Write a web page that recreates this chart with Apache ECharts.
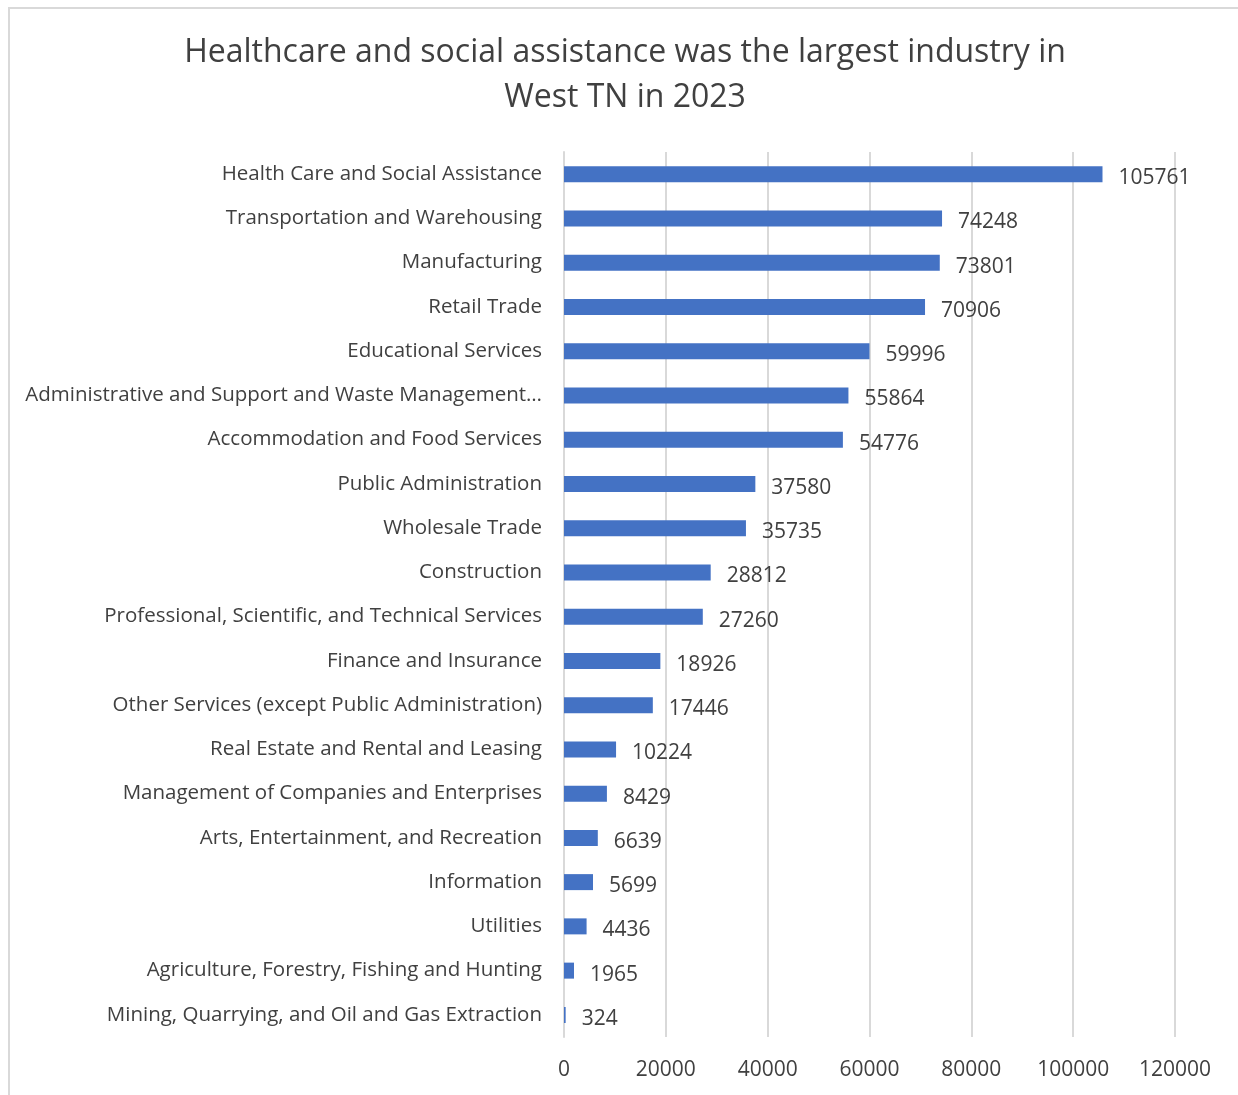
<!DOCTYPE html>
<html><head><meta charset="utf-8">
<script src="https://cdn.jsdelivr.net/npm/echarts@6/dist/echarts.min.js"></script>
<style>
html,body{margin:0;padding:0;background:#fff;}
#frame{position:absolute;left:8px;top:7px;width:1240px;height:1100px;border:2px solid #d9d9d9;box-sizing:border-box;}
#chart{position:absolute;left:0;top:0;width:1238px;height:1095px;}
</style></head>
<body>
<div id="frame"></div>
<div id="chart"></div>
<script>
var categories = [
  "Health Care and Social Assistance",
  "Transportation and Warehousing",
  "Manufacturing",
  "Retail Trade",
  "Educational Services",
  "Administrative and Support and Waste Management…",
  "Accommodation and Food Services",
  "Public Administration",
  "Wholesale Trade",
  "Construction",
  "Professional, Scientific, and Technical Services",
  "Finance and Insurance",
  "Other Services (except Public Administration)",
  "Real Estate and Rental and Leasing",
  "Management of Companies and Enterprises",
  "Arts, Entertainment, and Recreation",
  "Information",
  "Utilities",
  "Agriculture, Forestry, Fishing and Hunting",
  "Mining, Quarrying, and Oil and Gas Extraction"
];
var values = [105761, 74248, 73801, 70906, 59996, 55864, 54776, 37580, 35735, 28812, 27260, 18926, 17446, 10224, 8429, 6639, 5699, 4436, 1965, 324];
var titleText = "Healthcare and social assistance was the largest industry in\nWest TN in 2023";

var chart = echarts.init(document.getElementById('chart'));
var font = 'Open Sans';
chart.setOption({
  animation: false,
  title: {
    text: titleText, left: 620, top: 25, textAlign: 'center',
    textStyle: {fontFamily: font, fontSize: 32, fontWeight: 'normal', color: '#404040', lineHeight: 45}
  },
  grid: {left: 564, right: 63, top: 152, bottom: 58, containLabel: false},
  xAxis: {
    type: 'value', min: 0, max: 120000, interval: 20000,
    axisLine: {show: false}, axisTick: {show: false},
    splitLine: {lineStyle: {color: '#d9d9d9', width: 2}},
    axisLabel: {fontFamily: font, fontSize: 21, color: '#404040', margin: 23,
      formatter: function (v) { return String(v); }}
  },
  yAxis: {
    type: 'category', data: categories.slice().reverse(),
    axisLine: {show: true, lineStyle: {color: '#d9d9d9', width: 2}},
    axisTick: {show: false},
    axisLabel: {fontFamily: font, fontSize: 20.5, color: '#404040', margin: 22}
  },
  series: [{
    type: 'bar', data: values.slice().reverse(),
    barWidth: 16,
    itemStyle: {color: '#4472c4'},
    label: {show: true, position: 'right', distance: 16, fontFamily: font, fontSize: 21, color: '#404040', offset:[0,4]}
  }]
});
</script>
</body></html>
